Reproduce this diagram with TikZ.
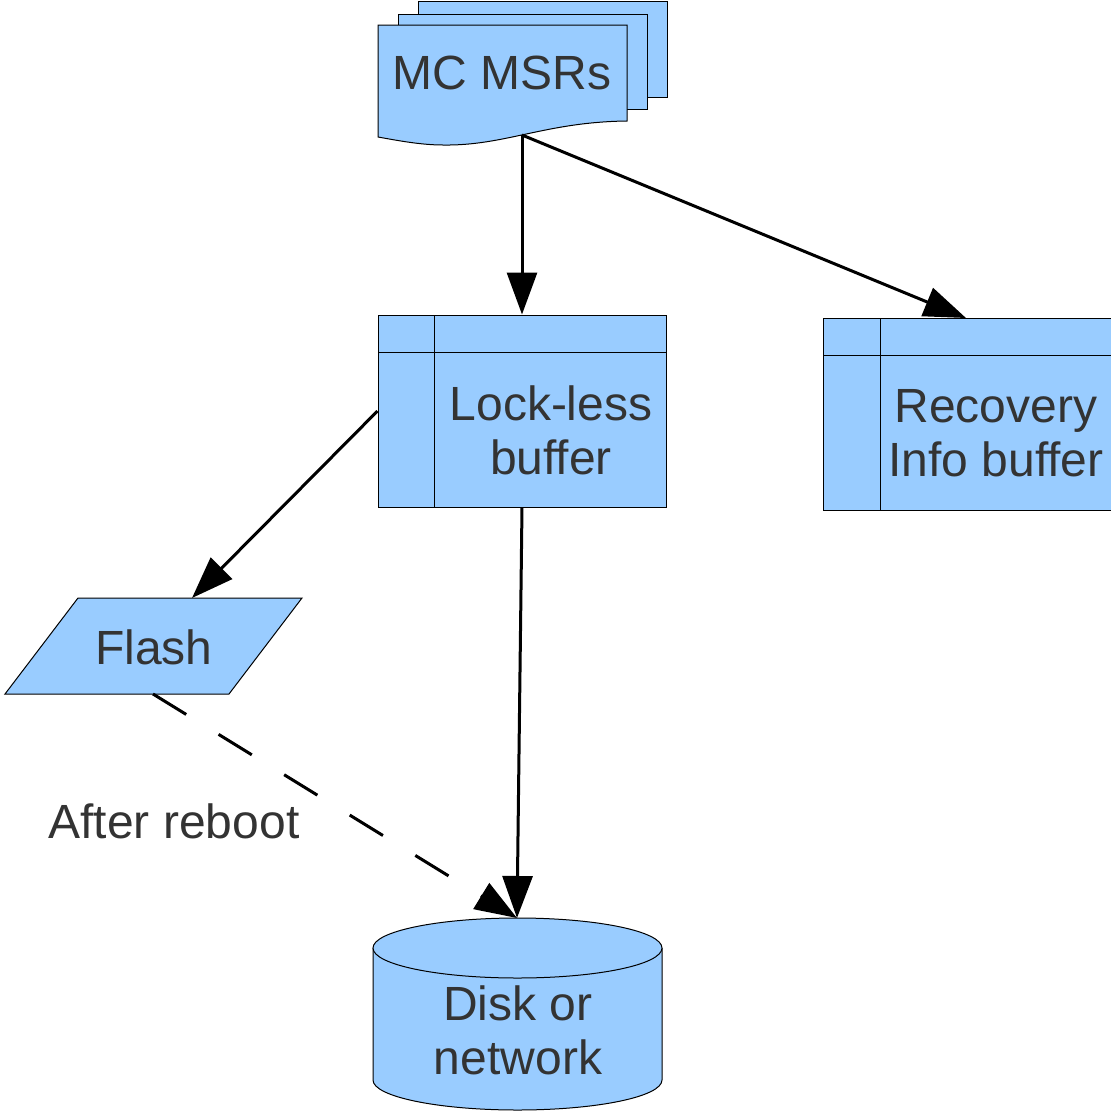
\documentclass[tikz,border=0pt]{standalone}
\usepackage{fontspec}
\setmainfont{Liberation Sans}
\usetikzlibrary{arrows.meta}
\definecolor{boxfill}{RGB}{153,204,255}
\definecolor{txt}{RGB}{51,51,51}
\tikzset{
  shapeline/.style={draw=black, line width=1pt, fill=boxfill},
  label/.style={text=txt, font=\fontsize{48}{54}\selectfont, align=center, inner sep=0pt},
  flow/.style={line width=3pt, -{Triangle[length=42pt,width=30pt]}},
  flowdash/.style={flow, dash pattern=on 39pt off 38pt},
}
\begin{document}
\begin{tikzpicture}[x=1pt,y=-1pt]
\useasboundingbox[fill=white] (0,0) rectangle (1111,1112);

% stacked documents
\draw[shapeline] (418,1) rectangle (667,97);
\draw[shapeline] (398,14) rectangle (647,109);
\draw[shapeline] (378,25) -- (627,25) -- (627,121)
  .. controls (545,122) and (505,146) .. (443,145)
  .. controls (420,145) and (395,140) .. (378,137) -- cycle;
\node[label] (msr) at (502,73) {MC MSRs};
\coordinate (msrout) at (522,135);

% lock-less buffer
\node[shapeline, minimum width=288pt, minimum height=192pt, inner sep=0pt] (lock) at (522,411) {};
\draw[line width=1pt] (434,315) -- (434,507) (378,352) -- (666,352);
\node[label] (locktext) at (551,430) {Lock-less\\buffer};

% recovery info buffer
\node[shapeline, minimum width=290pt, minimum height=192pt, inner sep=0pt] (recov) at (968,414) {};
\draw[line width=1pt] (880,318) -- (880,510) (823,355) -- (1113,355);
\node[label] (recovtext) at (996,433) {Recovery\\Info buffer};
\coordinate (recovin) at (966,318);

% flash
\draw[shapeline] (78,598) -- (302,598) -- (229,694) -- (5,694) -- cycle;
\node[label] (flash) at (154,647) {Flash};
\coordinate (flashtop) at (192,598);
\coordinate (flashbot) at (153,694);

% disk or network
\draw[shapeline] (373,948) -- (373,1080)
  arc[start angle=180, end angle=360, x radius=144.5pt, y radius=30pt]
  -- (662,948);
\draw[shapeline] (517.5,948) ellipse[x radius=144.5pt, y radius=30pt];
\node[label] (disktext) at (518,1030) {Disk or\\network};
\coordinate (disktop) at (517,918);

\node[label] (reboot) at (174,821) {After reboot};

% connectors
\draw[flow] (msrout) -- (lock.north);
\draw[flow] (msrout) -- (recovin);
\draw[flow] (lock.west) -- (flashtop);
\draw[flow] (lock.south) -- (disktop);
\draw[flowdash] (flashbot) -- (disktop);
\end{tikzpicture}
\end{document}
